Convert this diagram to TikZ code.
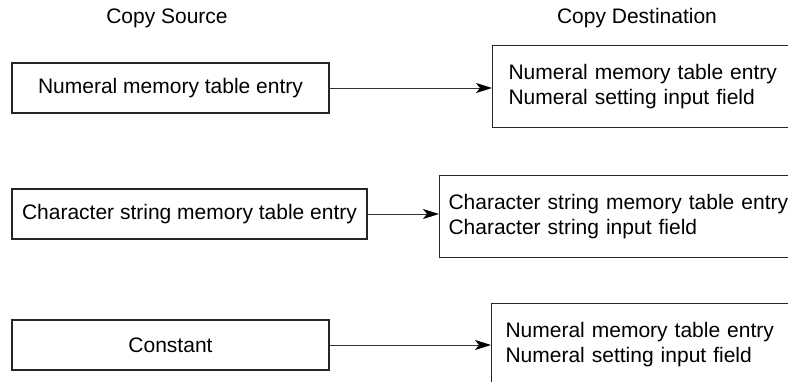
\documentclass[tikz,border=0pt]{standalone}
\usepackage{fontspec}
\setmainfont{Liberation Sans}
\usetikzlibrary{arrows.meta}
\begin{document}
\begin{tikzpicture}[x=1pt,y=-1pt,
  every node/.style={font=\fontsize{21}{25}\selectfont},
  title/.style={inner sep=0pt},
  srcbox/.style={draw=black!85,line width=1.1pt,minimum height=50pt,inner xsep=8pt},
  dstbox/.style={draw=black!85,line width=1.1pt,anchor=north west,minimum height=82pt,
                 text width=360pt,align=left},
  arr/.style={draw=black!80,line width=1pt,-{Stealth[length=16pt,width=10pt,inset=4pt,color=black]}}]
\useasboundingbox (0,0) rectangle (788,381);
\clip (0,0) rectangle (788,381);
% titles
\node[title] (t1) at (167,18) {Copy Source};
\node[title] (t2) at (637,18) {Copy Destination};
% row 1
\node[srcbox,minimum width=317pt] (s1) at (170.5,88) {Numeral memory table entry};
\node[dstbox,inner xsep=16pt] (d1) at (492,45) {Numeral memory table entry\\Numeral setting input field};
\draw[arr] (s1.east) -- (s1.east -| d1.west);
% row 2
\node[srcbox,minimum width=355pt] (s2) at (189.5,214) {Character string memory table entry};
\node[dstbox,inner xsep=9pt] (d2) at (439,175) {Character string memory table entry\\Character string input field};
\draw[arr] (s2.east) -- (s2.east -| d2.west);
% row 3
\node[srcbox,minimum width=317pt] (s3) at (170.5,345) {Constant};
\node[dstbox,inner xsep=14pt] (d3) at (491,303) {Numeral memory table entry\\Numeral setting input field};
\draw[arr] (s3.east) -- (s3.east -| d3.west);
\end{tikzpicture}
\end{document}
